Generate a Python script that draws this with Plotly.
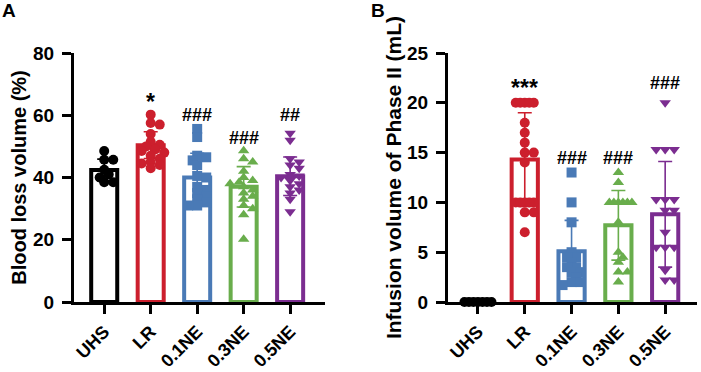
import plotly.graph_objects as go

# ---------------- data ----------------
categories = ["UHS", "LR", "0.1NE", "0.3NE", "0.5NE"]

# Panel A: blood loss volume (%)
uhs_a = [48.5, 45.7, 45.7, 42.5, 41.0, 40.0, 38.5, 38.5]
lr_a = [60.2, 57.5, 57.0, 54.0, 51.5, 50.5, 50.0, 49.0, 48.5, 48.0, 47.0, 46.0, 45.0, 44.5, 44.0, 43.0]
ne01_a = [55.6, 53.0, 47.0, 46.5, 45.5, 44.0, 40.5, 40.0, 37.0, 36.0, 35.0, 34.0, 33.0, 32.0, 31.0, 31.0]
ne03_a = [48.6, 46.0, 45.0, 42.0, 40.0, 39.0, 38.5, 38.0, 37.0, 36.0, 35.0, 34.0, 33.0, 31.0, 30.0, 28.0, 20.2]
ne05_a = [54.2, 52.0, 46.0, 45.0, 44.0, 43.0, 41.0, 40.5, 40.0, 39.0, 38.0, 37.0, 36.0, 35.0, 33.0, 29.0]
mean_a = [42.4, 50.4, 40.0, 37.0, 40.4]
sd_a = [3.5, 4.3, 7.8, 6.5, 6.2]
sig_a = ["", "*", "###", "###", "##"]

# Panel B: infusion volume of phase II (mL)
uhs_b = [0, 0, 0, 0, 0, 0, 0]
lr_b = [20, 20, 20, 20, 20, 18, 17, 16, 15, 15, 14, 10, 10, 10, 10, 10, 9, 9, 7]
ne01_b = [13, 10, 8, 5, 4.5, 4.5, 4, 3.5, 3.5, 3, 3, 2.5, 2, 2, 1.7]
ne03_b = [13, 12, 10, 10, 10, 10, 10, 10, 8, 5, 4.5, 4, 3, 3, 2]
ne05_b = [20, 15.3, 15.3, 15.3, 10.3, 10.3, 10.3, 9.2, 9.2, 7, 5.5, 5.5, 5.5, 3.2, 2.2, 2.2]
mean_b = [0, 14.3, 5.1, 7.7, 8.8]
sd_b = [0, 4.7, 3.1, 3.5, 5.3]
sig_b = ["", "***", "###", "###", "###"]

# ---------------- styling / placement ----------------
colors = ["#000000", "#CC1F2D", "#4A7AB6", "#69AD4C", "#7B2D90"]
symbols = ["circle", "circle", "square", "triangle-up", "triangle-down"]
sig_y_a = [None, 64.3, 60.1, 52.7, 60.1]   # label placement (data units)
sig_y_b = [None, 21.5, 14.5, 14.5, 22.0]

W, H = 701, 372
FONT = "Liberation Sans, Arial, sans-serif"


def swarm(vals, ppu_y, ppu_x, d=6.0, step=4.5, maxk=3):
    """Deterministic beeswarm: horizontal offsets (in category units)."""
    order = sorted(range(len(vals)), key=lambda i: -vals[i])
    placed = []
    offs = [0.0] * len(vals)
    for i in order:
        y = vals[i] * ppu_y
        cands = [0.0]
        for k in range(1, maxk + 1):
            cands += [k * step, -k * step]
        chosen = None
        best, best_c = -1, 0.0
        for c in cands:
            dmin = min([((c - px) ** 2 + (y - py) ** 2) ** 0.5 for px, py in placed] or [1e9])
            if dmin >= d:
                chosen = c
                break
            if dmin > best:
                best, best_c = dmin, c
        if chosen is None:
            chosen = best_c
        placed.append((chosen, y))
        offs[i] = chosen / ppu_x
    return offs


fig = go.Figure()

panels = [
    ("x", "y", [uhs_a, lr_a, ne01_a, ne03_a, ne05_a], mean_a, sd_a, sig_a, sig_y_a, 249 / 80, 46.25),
    ("x2", "y2", [uhs_b, lr_b, ne01_b, ne03_b, ne05_b], mean_b, sd_b, sig_b, sig_y_b, 250 / 25, 46.75),
]

for xa, ya, groups, means, sds, sigs, sigy, ppu_y, ppu_x in panels:
    for i, (vals, m, s) in enumerate(zip(groups, means, sds)):
        c = colors[i]
        fig.add_trace(go.Bar(
            x=[i], y=[m], width=0.56, xaxis=xa, yaxis=ya,
            marker=dict(color="white", line=dict(color=c, width=4)),
            error_y=dict(type="data", array=[s], color=c, thickness=1.6, width=7, visible=s > 0),
            showlegend=False, hoverinfo="skip"))
    for i, vals in enumerate(groups):
        offs = swarm(vals, ppu_y, ppu_x)
        fig.add_trace(go.Scatter(
            x=[i + o for o in offs], y=vals, mode="markers", xaxis=xa, yaxis=ya,
            marker=dict(symbol=symbols[i], size=10, color=colors[i], line=dict(width=0)),
            cliponaxis=False, showlegend=False))
    for i, (t, yy) in enumerate(zip(sigs, sigy)):
        if t:
            fig.add_annotation(
                x=i, y=yy, xref=xa, yref=ya, text=t, showarrow=False,
                font=dict(family=FONT, size=23 if "*" in t else 18, color="black", weight="bold"))

xdomA = [74 / W, 325 / W]
xdomB = [448 / W, 697 / W]
ydom = [1 - 302 / H, 1 - 53 / H]

axis_common = dict(
    showline=True, linecolor="black", linewidth=3, ticks="outside", ticklen=9,
    tickwidth=3, tickcolor="black", showgrid=False, zeroline=False, automargin=False)
ytickfont = dict(family=FONT, size=19, color="black", weight="bold")
xtickfont = dict(family=FONT, size=18, color="black", weight="bold")

fig.update_layout(
    width=W, height=H, margin=dict(l=0, r=0, t=0, b=0, autoexpand=False),
    paper_bgcolor="white", plot_bgcolor="white", barmode="overlay",
    font=dict(family=FONT, color="black"),
    xaxis=dict(domain=xdomA, anchor="y", range=[-0.65, 4.75], tickfont=xtickfont,
               tickvals=list(range(5)), ticktext=categories, tickangle=-45, **axis_common),
    yaxis=dict(domain=ydom, anchor="x", range=[0, 80], tickvals=[0, 20, 40, 60, 80],
               ticklabelstandoff=4, tickfont=ytickfont,
               title=dict(text="Blood loss volume (%)", standoff=2,
                          font=dict(family=FONT, size=20, color="black", weight="bold")),
               **axis_common),
    xaxis2=dict(domain=xdomB, anchor="y2", range=[-0.64, 4.68], tickfont=xtickfont,
                tickvals=list(range(5)), ticktext=categories, tickangle=-45, **axis_common),
    yaxis2=dict(domain=ydom, anchor="x2", range=[0, 25], tickvals=[0, 5, 10, 15, 20, 25],
                ticklabelstandoff=4, tickfont=ytickfont,
                title=dict(text="Infusion volume of Phase II (mL)", standoff=0,
                           font=dict(family=FONT, size=21, color="black", weight="bold")),
                **axis_common),
)

fig.add_annotation(x=9 / W, y=1 - 11 / H, xref="paper", yref="paper", text="A",
                   xanchor="center", yanchor="middle",
                   showarrow=False, font=dict(family=FONT, size=19, color="black", weight="bold"))
fig.add_annotation(x=378 / W, y=1 - 11 / H, xref="paper", yref="paper", text="B",
                   xanchor="center", yanchor="middle",
                   showarrow=False, font=dict(family=FONT, size=19, color="black", weight="bold"))

fig.write_html("out.html", config={"displayModeBar": False},
               post_script="document.body.style.margin='0';document.body.style.overflow='hidden';")
